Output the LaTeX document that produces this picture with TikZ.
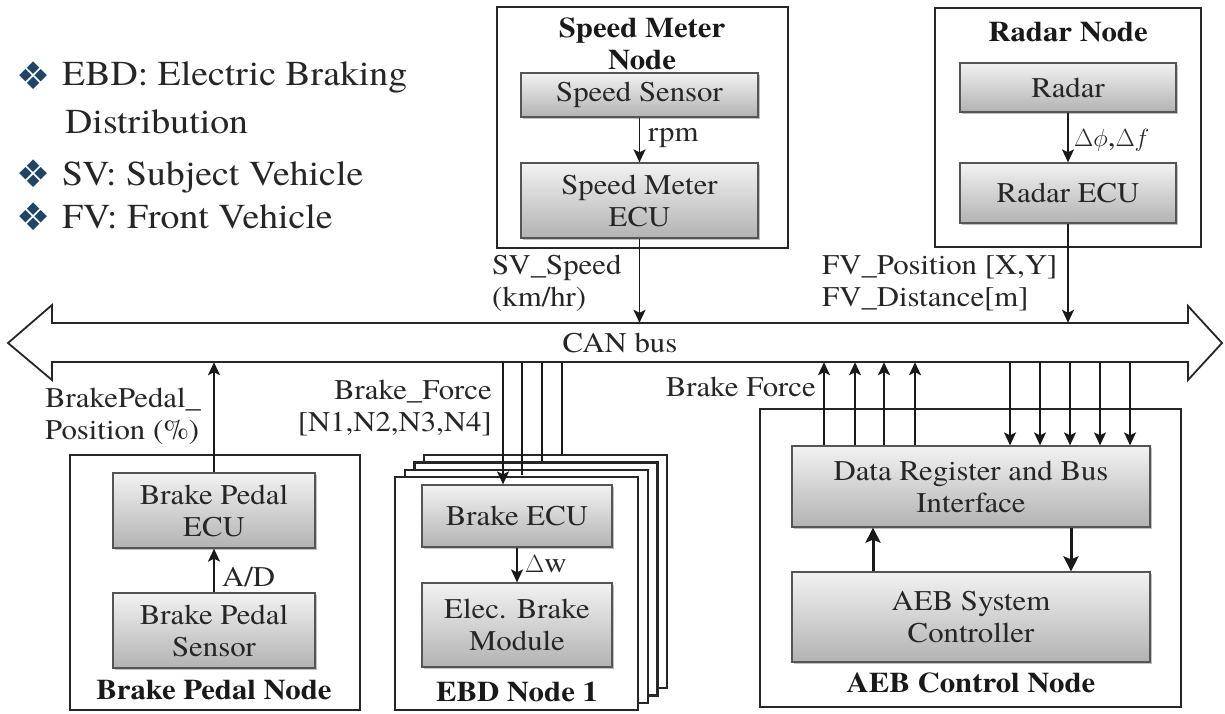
\documentclass[tikz,border=0pt]{standalone}
\usepackage{fontspec}
\setmainfont{texgyretermes}[Extension=.otf, UprightFont=*-regular, BoldFont=*-bold, ItalicFont=*-italic, BoldItalicFont=*-bolditalic, FakeStretch=1.08]
\newfontfamily\symfont{DejaVu Sans}
\usetikzlibrary{arrows.meta,shadows,calc}
\definecolor{bulletblue}{HTML}{1F4566}
\definecolor{boxedge}{HTML}{555555}
\newcommand{\nf}{\fontsize{28.5}{32}\selectfont}
\newcommand{\lf}{\fontsize{35}{47}\selectfont}
\begin{document}
\begin{tikzpicture}[x=1pt,y=-1pt,
  graybox/.style={draw=boxedge, line width=1.3pt, top color=black!5, bottom color=black!30,
    drop shadow={shadow xshift=2pt, shadow yshift=-2pt, opacity=0.35, fill=black!70},
    align=center, inner sep=0pt, font=\nf, text=black!85},
  outerbox/.style={draw=black!85, line width=2.2pt, fill=white, inner sep=0pt},
  title/.style={font=\nf\bfseries, align=center, inner sep=0pt, text=black!90},
  lbl/.style={font=\nf, align=left, inner sep=0pt, text=black!85},
  arr/.style={draw=black!90, line width=1.8pt, -{Stealth[length=13pt,width=12pt,inset=3pt]}},
  thickarr/.style={draw=black!90, line width=3pt, -{Stealth[length=15pt,width=15pt,inset=3pt]}},
  plainln/.style={draw=black!90, line width=1.8pt},
  legend/.style={font=\lf, anchor=base west, inner sep=0pt, text=black!85},
  bul/.style={font=\symfont\fontsize{38}{38}\selectfont, text=bulletblue, inner sep=0pt}
]
\useasboundingbox[fill=white] (0,0) rectangle (1225,713);

% ---------- legend ----------
\node[bul] (b1) at (34,76) {❖};
\node[legend] (l1) at (62,85) {EBD: Electric Braking};
\node[legend] (l1b) at (65,133) {Distribution};
\node[bul] (b2) at (34,174) {❖};
\node[legend] (l2) at (62,185) {SV: Subject Vehicle};
\node[bul] (b3) at (34,217) {❖};
\node[legend] (l3) at (62,228) {FV: Front Vehicle};

% ---------- CAN bus ----------
\draw[draw=black!85, line width=1.8pt, fill=white, line join=miter]
  (8,343) -- (52,305) -- (52,323) -- (1188,323) -- (1188,306) -- (1222,343)
  -- (1188,380) -- (1188,362) -- (52,362) -- (52,380) -- cycle;
\node[minimum width=1136pt, minimum height=39pt, inner sep=0pt, font=\nf, text=black!85] (bus) at (620,342.5) {CAN bus};

% ---------- Speed Meter Node ----------
\node[outerbox, minimum width=291pt, minimum height=241pt] (smn) at (642.5,127.5) {};
\node[title] (smt) at (642,43.5) {Speed Meter\\Node};
\node[graybox, minimum width=237pt, minimum height=44pt] (ss) at (639.5,95) {Speed Sensor};
\node[graybox, minimum width=237pt, minimum height=75pt] (sme) at (639.5,200.5) {Speed Meter\\ECU};
\draw[arr] (ss.south) -- (sme.north);
\node[lbl, anchor=west] (rpm) at (648,138) {rpm};
\draw[arr] (sme.south) -- (sme.south |- bus.north);
\node[lbl, anchor=west] (svs) at (492,283.5) {SV\_Speed\\(km/hr)};

% ---------- Radar Node ----------
\node[outerbox, minimum width=266pt, minimum height=239pt] (rn) at (1068,127.5) {};
\node[title] (rt) at (1068,32) {Radar Node};
\node[graybox, minimum width=216pt, minimum height=49pt] (radar) at (1068,87.5) {Radar};
\node[graybox, minimum width=216pt, minimum height=60pt] (recu) at (1068,193) {Radar ECU};
\draw[arr] (radar.south) -- (recu.north);
\node[lbl, anchor=west] (dphi) at (1074,140) {$\Delta\phi$,$\Delta f$};
\draw[arr] (recu.south) -- (recu.south |- bus.north);
\node[lbl, anchor=west] (fvp) at (822,283.5) {FV\_Position [X,Y]\\FV\_Distance[m]};

% ---------- Brake Pedal Node ----------
\node[outerbox, minimum width=290pt, minimum height=255pt] (bpn) at (215,582.5) {};
\node[graybox, minimum width=202pt, minimum height=75pt] (bpe) at (214,510.5) {Brake Pedal\\ECU};
\node[graybox, minimum width=202pt, minimum height=75pt] (bps) at (214,630.5) {Brake Pedal\\Sensor};
\node[title] (bpt) at (214,690) {Brake Pedal Node};
\draw[arr] (bps.north) -- (bpe.south);
\node[lbl, anchor=west] (ad) at (222,577) {A/D};
\draw[arr] (bpe.north) -- (bpe.north |- bus.south);
\node[lbl, anchor=west] (bpp) at (45,416) {BrakePedal\_\\Position (\%)};

% ---------- EBD Node stack ----------
\coordinate (f1) at (503,0);
\coordinate (f2) at (522,0);
\coordinate (f3) at (542,0);
\coordinate (f4) at (562,0);
\node[outerbox, minimum width=243pt, minimum height=233pt] (ebd4) at (545.6,571.6) {};
\draw[plainln] (bus.south -| f4) -- (ebd4.north -| f4);
\node[outerbox, minimum width=243pt, minimum height=233pt] (ebd3) at (535.9,578.9) {};
\draw[plainln] (bus.south -| f3) -- (ebd3.north -| f3);
\node[outerbox, minimum width=243pt, minimum height=233pt] (ebd2) at (526.2,586.2) {};
\draw[plainln] (bus.south -| f2) -- ($(ebd2.north -| f2)+(0,6)$);
\node[outerbox, minimum width=243pt, minimum height=233pt] (ebd1) at (516.5,593.5) {};
\node[graybox, minimum width=190pt, minimum height=62pt] (becu) at (517,516) {Brake ECU};
\node[graybox, minimum width=190pt, minimum height=84pt] (ebm) at (517,625) {Elec. Brake\\Module};
\node[title] (ebt) at (517,692) {EBD Node 1};
\draw[arr] (bus.south -| f1) -- (becu.north -| f1);
\draw[arr] (becu.south) -- (ebm.north);
\node[lbl, anchor=west] (dw) at (525,564) {$\Delta$w};
\node[lbl, anchor=east, align=right] (bf) at (492,407.5) {Brake\_Force\\{}[N1,N2,N3,N4]};

% ---------- AEB Control Node ----------
\node[outerbox, minimum width=421pt, minimum height=298pt] (aeb) at (970.5,558) {};
\node[graybox, minimum width=358pt, minimum height=81pt] (dr) at (971,486.5) {Data Register and Bus\\Interface};
\node[graybox, minimum width=358pt, minimum height=90pt] (ctrl) at (971,617) {AEB System\\Controller};
\node[title] (aebt) at (971,683) {AEB Control Node};
\coordinate (u1) at (824,0);
\coordinate (u2) at (855,0);
\coordinate (u3) at (884,0);
\coordinate (u4) at (915,0);
\coordinate (d1) at (1010,0);
\coordinate (d2) at (1040,0);
\coordinate (d3) at (1070,0);
\coordinate (d4) at (1100,0);
\coordinate (d5) at (1130,0);
\foreach \u in {u1,u2,u3,u4} \draw[arr] (dr.north -| \u) -- (bus.south -| \u);
\foreach \d in {d1,d2,d3,d4,d5} \draw[arr] (bus.south -| \d) -- (dr.north -| \d);
\coordinate (t1) at (873,0);
\coordinate (t2) at (1071,0);
\draw[thickarr] (ctrl.north -| t1) -- (dr.south -| t1);
\draw[thickarr] (dr.south -| t2) -- (ctrl.north -| t2);
\node[lbl, anchor=east] (bfl) at (816,387) {Brake Force};
\end{tikzpicture}
\end{document}
